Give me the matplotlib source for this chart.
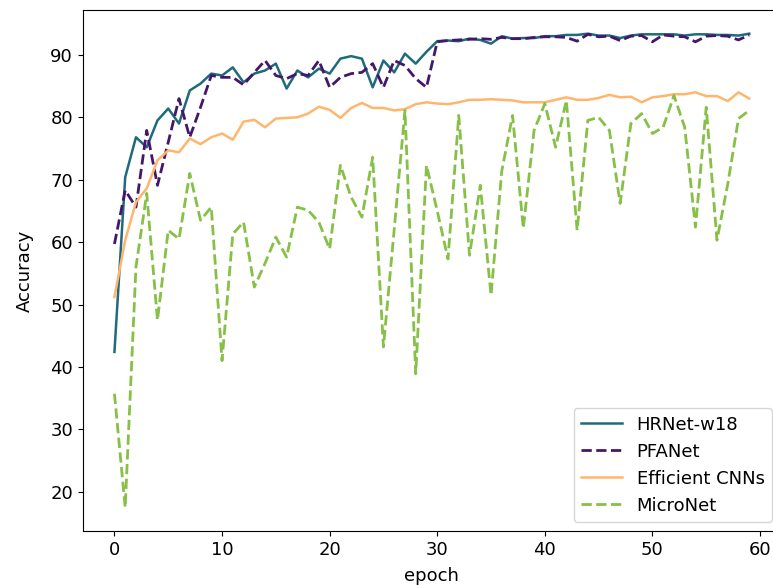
import numpy as np
import matplotlib
matplotlib.use("Agg")
import matplotlib.pyplot as plt

epochs = np.arange(60)

hrnet = [42.4, 70.4, 76.8, 75.2, 79.5, 81.4, 79.0, 84.3, 85.4, 87.0,
         86.7, 88.0, 85.6, 87.0, 87.5, 88.6, 84.6, 87.5, 86.4, 87.8,
         87.0, 89.4, 89.8, 89.4, 84.8, 89.1, 87.2, 90.2, 88.6, 90.5,
         92.2, 92.3, 92.2, 92.6, 92.4, 91.8, 93.0, 92.6, 92.7, 92.7,
         93.0, 93.0, 93.2, 93.2, 93.4, 93.1, 93.1, 92.7, 93.1, 93.3,
         93.3, 93.3, 93.3, 93.1, 93.3, 93.3, 93.2, 93.2, 93.1, 93.4]

pfanet = [59.7, 68.3, 65.6, 77.9, 69.1, 76.0, 83.0, 76.8, 81.6, 86.7,
          86.4, 86.4, 85.2, 87.2, 89.1, 86.7, 86.2, 87.0, 86.7, 89.1,
          84.8, 86.4, 87.0, 87.2, 88.6, 84.8, 89.1, 88.3, 86.2, 84.8,
          92.1, 92.3, 92.4, 92.5, 92.6, 92.5, 92.8, 92.6, 92.6, 92.8,
          92.9, 92.9, 92.8, 92.2, 93.3, 92.9, 93.0, 92.3, 93.0, 93.1,
          92.1, 93.2, 93.0, 92.9, 92.1, 93.0, 93.1, 93.0, 92.4, 93.2]

efficient = [51.2, 60.3, 66.4, 68.6, 73.1, 74.7, 74.4, 76.6, 75.7, 76.8,
             77.4, 76.4, 79.3, 79.6, 78.4, 79.8, 79.9, 80.0, 80.6, 81.7,
             81.2, 79.9, 81.5, 82.3, 81.5, 81.5, 81.1, 81.3, 82.1, 82.4,
             82.2, 82.1, 82.4, 82.8, 82.8, 82.9, 82.8, 82.7, 82.4, 82.4,
             82.4, 82.8, 83.2, 82.8, 82.8, 83.1, 83.6, 83.2, 83.3, 82.4,
             83.2, 83.4, 83.7, 83.7, 84.0, 83.4, 83.4, 82.6, 84.0, 83.0]

micronet = [35.7, 17.5, 56.0, 67.8, 47.5, 61.9, 60.5, 71.0, 63.5, 65.6,
            41.0, 61.3, 63.2, 52.8, 56.6, 60.8, 57.6, 65.6, 65.1, 63.2,
            58.9, 72.3, 67.2, 64.0, 73.6, 43.2, 62.0, 81.1, 38.9, 72.3,
            65.0, 57.3, 80.3, 57.9, 69.1, 51.5, 71.4, 80.3, 62.2, 77.9,
            82.2, 75.2, 82.7, 61.9, 79.5, 80.0, 77.9, 66.2, 79.0, 80.6,
            77.4, 78.4, 83.5, 78.4, 62.4, 81.6, 60.3, 69.3, 79.8, 81.1]

plt.rcParams['font.size'] = 13

fig = plt.figure(figsize=(7.73, 5.86), dpi=100)
# the original figure is cut off on the right, so the axes run past the edge
ax = fig.add_axes([82.7 / 773, 55 / 586, (781 - 82.7) / 773, 521 / 586])
ax.spines['right'].set_visible(False)

ax.plot(epochs, hrnet, color="#1e6b7b", lw=1.8, label="HRNet-w18")
ax.plot(epochs, pfanet, color="#45176b", lw=2.0, ls="--", label="PFANet")
ax.plot(epochs, efficient, color="#ffb66c", lw=1.8, label="Efficient CNNs")
ax.plot(epochs, micronet, color="#86c046", lw=2.0, ls="--", label="MicroNet")

ax.set_xlabel("epoch", labelpad=6)
ax.set_ylabel("Accuracy", labelpad=12)
ax.set_xticks([0, 10, 20, 30, 40, 50, 60])
ax.legend(loc="lower right", handlelength=2.3)

fig.savefig("out.png", dpi=100)
